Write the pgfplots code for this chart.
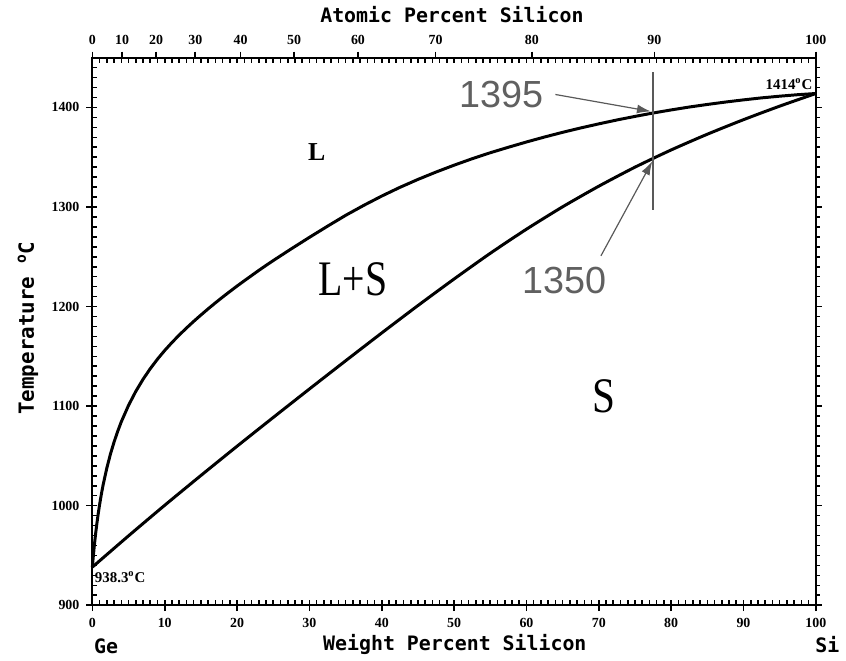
\documentclass[border=0pt]{standalone}
\usepackage{fontspec}
\setmainfont{Liberation Serif}
\setmonofont{DejaVu Sans Mono}
\newfontfamily\arial{Liberation Sans}
\usepackage{pgfplots}
\pgfplotsset{compat=1.18}
\usetikzlibrary{arrows.meta}

\pgfplotstableread{
w T
0 938.3
0.02 940.1
0.05 942.7
0.1 946.9
0.2 954.8
0.3 962.1
0.45 972.0
0.6 980.9
0.8 991.6
1 1001.2
1.25 1011.9
1.5 1021.4
2 1037.9
2.5 1051.9
3 1064.0
3.5 1074.7
4 1084.3
5 1100.8
6 1114.8
7 1126.9
8 1137.6
9 1147.2
10 1155.9
11 1163.9
12 1171.35
13 1178.4
14 1185.1
15 1191.5
16 1197.7
17 1203.7
18 1209.5
19 1215.1
20 1220.6
21 1225.9
22 1231.1
23 1236.3
24 1241.3
25 1246.2
27.5 1258
30 1269.5
32.5 1280.7
35 1291.6
37.5 1301.6
40 1311
42.5 1319.7
45 1327.7
47.5 1335.1
50 1342
52.5 1348.5
55 1354.5
57.5 1360
60 1365.3
62.5 1370.3
65 1375
67.5 1379.4
70 1383.5
72.5 1387.4
75 1391
77.5 1394.4
80 1397.5
82.5 1400.4
85 1403
87.5 1405.4
90 1407.6
92.5 1409.6
95 1411.3
97.5 1412.8
100 1414
}\liquidus

\pgfplotstableread{
w T
0 938.3
5 969.7
10 1000.4
15 1030.3
20 1059.7
25 1088.6
30 1117.2
35 1145.5
40 1173.5
45 1201.0
50 1227.7
55 1253.5
60 1277.7
65 1300.2
70 1320.9
75 1340.0
80 1357.3
85 1373.1
90 1387.7
95 1401.3
100 1414
}\solidus

\begin{document}
\begin{tikzpicture}
\pgfplotsset{
  common/.style={
    scale only axis, width=364pt, height=275.5pt,
    xmin=0, xmax=100, ymin=900, ymax=1450, clip=false,
    axis line style={line width=1pt},
    tick style={black, line width=0.8pt},
    major tick length=3pt,
    ticklabel style={font=\fontsize{7}{8}\selectfont\bfseries},
    /pgf/number format/assume math mode=true,
    /pgf/number format/1000 sep={},
    scaled ticks=false,
  }
}
\begin{axis}[common,
  xtick={0,10,...,100}, ytick={900,1000,...,1400},
  xtick pos=bottom, ytick pos=left, tick align=outside,
  extra x ticks={1,2,...,99}, extra x tick labels={},
  extra x tick style={tick align=inside, major tick length=2.5pt},
  extra y ticks={910,920,...,1440}, extra y tick labels={},
  extra y tick style={tick align=inside, major tick length=2.5pt},
]
\path (rel axis cs:-0.1277,-0.0962) rectangle (rel axis cs:1.0343,1.1053);
\addplot[black, line width=1.5pt, line join=round] table[x=w,y=T] {\liquidus};
\addplot[black, line width=1.5pt, smooth, tension=0.4] table[x=w,y=T] {\solidus};
\addplot[gray!70!black, line width=0.6pt] coordinates {(77.5,1297) (77.5,1436)};
\draw[-{Latex[length=7pt,width=4.5pt]}, gray!70!black, line width=0.6pt] (axis cs:64,1413) -- (axis cs:77.2,1396);
\draw[-{Latex[length=7pt,width=4.5pt]}, gray!70!black, line width=0.6pt] (axis cs:70.3,1251) -- (axis cs:77.4,1346);
\node[font=\arial\fontsize{19}{19}\selectfont, text=gray!75!black] at (axis cs:56.5,1413) {1395};
\node[font=\arial\fontsize{19}{19}\selectfont, text=gray!75!black] at (axis cs:65.3,1226) {1350};
\node[font=\bfseries\fontsize{13}{13}\selectfont] at (axis cs:31,1355) {L};
\node[font=\fontsize{25}{25}\selectfont] at (axis cs:36,1227) {\scalebox{0.8}[1]{L+S}};
\node[font=\fontsize{25}{25}\selectfont] at (axis cs:70.7,1110) {\scalebox{0.83}[1]{S}};
\node[font=\bfseries\fontsize{7.5}{7.5}\selectfont] at (axis cs:96.3,1423) {1414\textsuperscript{o}C};
\node[font=\bfseries\fontsize{7.5}{7.5}\selectfont, anchor=west, inner sep=0pt] at (axis cs:0.3,928) {938.3\textsuperscript{o}C};
\node[font=\ttfamily\bfseries\fontsize{10}{10}\selectfont] at (rel axis cs:0.497,1.078) {Atomic Percent Silicon};
\node[font=\ttfamily\bfseries\fontsize{10}{10}\selectfont] at (rel axis cs:0.501,-0.071) {Weight Percent Silicon};
\node[font=\ttfamily\bfseries\fontsize{10}{10}\selectfont] at (rel axis cs:0.019,-0.075) {Ge};
\node[font=\ttfamily\bfseries\fontsize{10}{10}\selectfont] at (rel axis cs:1.016,-0.071) {Si};
\node[font=\ttfamily\bfseries\fontsize{10.5}{10.5}\selectfont, rotate=90] at (rel axis cs:-0.089,0.506) {Temperature \textsuperscript{o}C};
\end{axis}
\begin{axis}[common,
  xtick={0,4.12,8.81,14.22,20.50,27.89,36.71,47.43,60.74,77.68,100},
  xticklabels={0,10,20,30,40,50,60,70,80,90,100},
  ytick={900,1000,...,1400}, yticklabels={},
  xtick pos=top, xticklabel pos=top, ytick pos=right, tick align=outside,
  extra x ticks={1,2,...,99}, extra x tick labels={},
  extra x tick style={tick align=inside, major tick length=2.5pt},
  extra y ticks={910,920,...,1440}, extra y tick labels={},
  extra y tick style={tick align=outside, major tick length=2pt},
]
\end{axis}
\end{tikzpicture}
\end{document}
